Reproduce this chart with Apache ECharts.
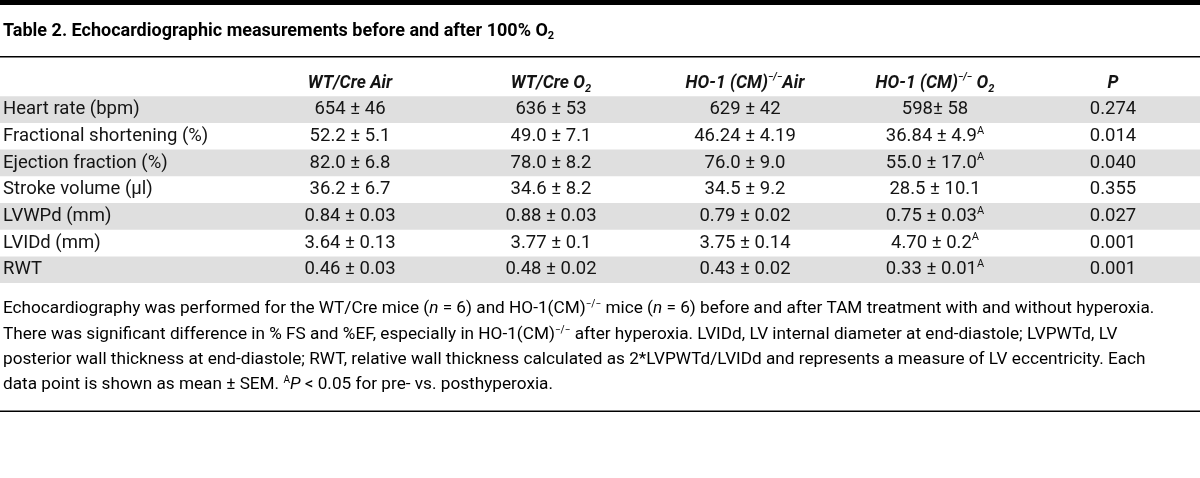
<!DOCTYPE html>
<html><head><meta charset="utf-8">
<script src="https://cdn.jsdelivr.net/npm/echarts@6/dist/echarts.min.js"></script>
<style>html,body{margin:0;padding:0;background:#fff}#c{width:1200px;height:478px}</style>
</head><body><div id="c"></div>
<script>
// ---- data ----
const titleMain = 'Table 2. Echocardiographic measurements before and after 100% O';
const titleSub = '2';
const headers = [
  '',
  '{h|WT/Cre Air}',
  '{h|WT/Cre O}{hsub|2}',
  '{h|HO-1 (CM)}{hsup|−/−}{h|Air}',
  '{h|HO-1 (CM)}{hsup|−/−}{h| O}{hsub|2}',
  '{h|P}'
];
const rowLabels = ['Heart rate (bpm)', 'Fractional shortening (%)', 'Ejection fraction (%)', 'Stroke volume (μl)', 'LVWPd (mm)', 'LVIDd (mm)', 'RWT'];
const wtAir = ['654 ± 46', '52.2 ± 5.1', '82.0 ± 6.8', '36.2 ± 6.7', '0.84 ± 0.03', '3.64 ± 0.13', '0.46 ± 0.03'];
const wtO2 = ['636 ± 53', '49.0 ± 7.1', '78.0 ± 8.2', '34.6 ± 8.2', '0.88 ± 0.03', '3.77 ± 0.1', '0.48 ± 0.02'];
const hoAir = ['629 ± 42', '46.24 ± 4.19', '76.0 ± 9.0', '34.5 ± 9.2', '0.79 ± 0.02', '3.75 ± 0.14', '0.43 ± 0.02'];
const hoO2 = ['598± 58', '36.84 ± 4.9', '55.0 ± 17.0', '28.5 ± 10.1', '0.75 ± 0.03', '4.70 ± 0.2', '0.33 ± 0.01'];
const hoO2Sig = [false, true, true, false, true, true, true];
const pValues = ['0.274', '0.014', '0.040', '0.355', '0.027', '0.001', '0.001'];
const footLines = [
  'Echocardiography was performed for the WT/Cre mice ({i|n} = 6) and HO-1(CM){s|−/−} mice ({i|n} = 6) before and after TAM treatment with and without hyperoxia.',
  'There was significant difference in % FS and %EF, especially in HO-1(CM){s|−/−} after hyperoxia. LVIDd, LV internal diameter at end-diastole; LVPWTd, LV',
  'posterior wall thickness at end-diastole; RWT, relative wall thickness calculated as 2*LVPWTd/LVIDd and represents a measure of LV eccentricity. Each',
  'data point is shown as mean ± SEM. {s|A}{i|P} < 0.05 for pre- vs. posthyperoxia.'
];

// ---- layout / style ----
const FONT = 'Roboto, "Noto Sans", sans-serif';
const INK = '#141414';
const BAND = '#dfdfdf';
const COL_X = [3, 350, 551, 745, 935, 1113];
const FOOT_Y = [309, 335, 360, 385];

const RICH = {
  b: {fontFamily: FONT, fontSize: 18.5, color: INK, lineHeight: 22, verticalAlign: 'middle'},
  h: {fontFamily: FONT, fontSize: 17.5, fontWeight: 'bold', fontStyle: 'italic', color: INK, lineHeight: 22, verticalAlign: 'middle'},
  hsub: {fontFamily: FONT, fontSize: 11, fontWeight: 'bold', fontStyle: 'italic', color: INK, lineHeight: 8, verticalAlign: 'bottom'},
  hsup: {fontFamily: FONT, fontSize: 10, fontWeight: 'bold', fontStyle: 'italic', color: INK, lineHeight: 10, verticalAlign: 'top'},
  sup: {fontFamily: FONT, fontSize: 11, color: INK, lineHeight: 11, verticalAlign: 'top'}
};
const FRICH = {
  f: {fontFamily: FONT, fontSize: 17.2, color: INK, lineHeight: 20, verticalAlign: 'middle'},
  i: {fontFamily: FONT, fontSize: 17.2, fontStyle: 'italic', color: INK, lineHeight: 20, verticalAlign: 'middle'},
  s: {fontFamily: FONT, fontSize: 10, color: INK, lineHeight: 10, verticalAlign: 'top'}
};
function footRich(line) {
  return line.split(/(\{[a-z]\|[^}]*\})/).filter(s => s.length).map(s => s[0] === '{' ? s : '{f|' + s + '}').join('');
}

const cats = ['header'].concat(rowLabels);
function cellTexts(i) {
  if (i === 0) return headers;
  const r = i - 1;
  return [
    '{b|' + rowLabels[r] + '}',
    '{b|' + wtAir[r] + '}',
    '{b|' + wtO2[r] + '}',
    '{b|' + hoAir[r] + '}',
    '{b|' + hoO2[r] + '}' + (hoO2Sig[r] ? '{sup|A}' : ''),
    '{b|' + pValues[r] + '}'
  ];
}

function renderItem(params, api) {
  const i = api.value(0);
  const p0 = api.coord([0, i]);
  const p1 = api.coord([1200, i]);
  const h = api.size([0, 1])[1];
  const children = [];
  if (i > 0 && i % 2 === 1) {
    children.push({type: 'rect', shape: {x: p0[0], y: p0[1] - h / 2, width: p1[0] - p0[0], height: h}, style: {fill: BAND}});
  }
  cellTexts(i).forEach((t, c) => {
    if (!t) return;
    const pt = api.coord([COL_X[c], i]);
    children.push({
      type: 'text', x: pt[0], y: pt[1] + (i === 0 ? 1 : 0),
      style: {text: t, rich: RICH, fill: INK, fontFamily: FONT, fontSize: 18,
        align: c === 0 ? 'left' : 'center', verticalAlign: 'middle'}
    });
  });
  return {type: 'group', children: children};
}

const graphics = [
  {type: 'rect', shape: {x: 0, y: 0, width: 1200, height: 5}, style: {fill: '#000'}},
  {type: 'text', x: 3, y: 31, style: {
    text: '{t|' + titleMain + '}{ts|' + titleSub + '}',
    rich: {
      t: {fontFamily: FONT, fontSize: 18, fontWeight: 'bold', color: '#000', lineHeight: 22, verticalAlign: 'middle'},
      ts: {fontFamily: FONT, fontSize: 11, fontWeight: 'bold', color: '#000', lineHeight: 8, verticalAlign: 'bottom'}
    },
    align: 'left', verticalAlign: 'middle', textAlign: 'left', textVerticalAlign: 'middle'}},
  {type: 'rect', shape: {x: 0, y: 56, width: 1200, height: 1.5}, style: {fill: '#000'}},
  {type: 'rect', shape: {x: 0, y: 410.5, width: 1200, height: 1.5}, style: {fill: '#000'}}
];
footLines.forEach((ln, k) => {
  graphics.push({type: 'text', x: 3, y: FOOT_Y[k], style: {
    text: footRich(ln), rich: FRICH, align: 'left', verticalAlign: 'middle', textAlign: 'left', textVerticalAlign: 'middle'}});
});

const chart = echarts.init(document.getElementById('c'), null, {renderer: 'canvas'});
chart.setOption({
  animation: false,
  grid: {left: 0, right: 0, top: 69.5, height: 213.6},
  xAxis: {type: 'value', min: 0, max: 1200, show: false},
  yAxis: {type: 'category', data: cats, inverse: true, show: false},
  series: [{type: 'custom', data: cats.map((c, i) => [i]), encode: {y: 0}, renderItem: renderItem, silent: true}],
  graphic: graphics
});
</script></body></html>
